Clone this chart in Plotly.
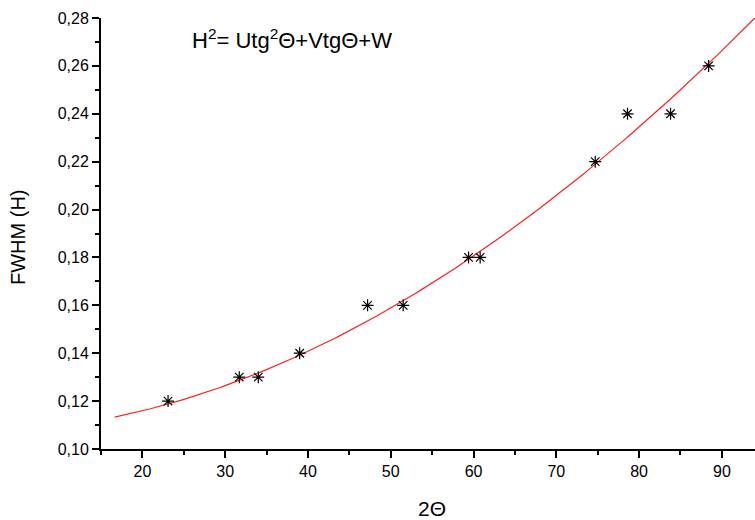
import numpy as np
import plotly.graph_objects as go

# Measured points (2Θ in degrees, FWHM H)
two_theta = [23.1, 31.7, 34.0, 39.0, 47.2, 51.5, 59.4, 60.8, 74.7, 78.6, 83.8, 88.4]
fwhm = [0.12, 0.13, 0.13, 0.14, 0.16, 0.16, 0.18, 0.18, 0.22, 0.24, 0.24, 0.26]

# Points
curve_x = [16.65, 23.1, 31.7, 34.0, 39.1, 47.2, 51.56, 59.4, 60.82, 68.88, 74.5, 78.33, 83.8, 88.4, 94.03]
curve_h = [0.1122, 0.1192, 0.1298, 0.1335, 0.1402, 0.1499, 0.1602, 0.1795, 0.1837, 0.2029, 0.2194, 0.2294,
           0.2469, 0.2603, 0.2799]

x_ticks = [20, 30, 40, 50, 60, 70, 80, 90]
y_ticks = [0.10, 0.12, 0.14, 0.16, 0.18, 0.20, 0.22, 0.24, 0.26, 0.28]

# smooth least-squares curve through the readings
coef = np.polyfit(curve_x, curve_h, 3)
xs = np.linspace(curve_x[0], 95, 300)
hs = np.polyval(coef, xs)

FONT = "Liberation Sans, Arial, sans-serif"
W_FIG, H_FIG = 755, 520
L, R, T, B = 101, 0, 18, 71
PW, PH = W_FIG - L - R, H_FIG - T - B

fig = go.Figure()
fig.add_trace(go.Scatter(x=xs, y=hs, mode="lines",
                         line=dict(color="#ff2020", width=1.2), hoverinfo="skip"))
fig.add_trace(go.Scatter(x=two_theta, y=fwhm, mode="markers",
                         marker=dict(symbol="asterisk-open", size=10, color="black",
                                     line=dict(color="black", width=1.2))))

fig.update_layout(
    width=W_FIG, height=H_FIG,
    margin=dict(l=L, r=R, t=T, b=B),
    plot_bgcolor="white", paper_bgcolor="white",
    showlegend=False,
    separators=",.",
    font=dict(family=FONT, size=16, color="black"),
    xaxis=dict(range=[15, 94.0], tickvals=x_ticks, showgrid=False, zeroline=False,
               showline=True, linecolor="black", linewidth=2,
               ticks="outside", ticklen=7, tickwidth=2, tickcolor="black",
               minor=dict(dtick=5, tick0=15, ticks="outside", ticklen=4, tickwidth=2, tickcolor="black"),
               tickfont=dict(size=16, family=FONT)),
    yaxis=dict(range=[0.10, 0.28], tickvals=y_ticks, tickformat=".2f", showgrid=False, zeroline=False,
               showline=True, linecolor="black", linewidth=2,
               ticks="outside", ticklen=7, tickwidth=2, tickcolor="black",
               minor=dict(dtick=0.01, tick0=0.1, ticks="outside", ticklen=4, tickwidth=2, tickcolor="black"),
               tickfont=dict(size=16, family=FONT)),
    annotations=[
        dict(text="2Θ", x=(432 - L) / PW, y=-(508 - (T + PH)) / PH, xref="paper", yref="paper",
             showarrow=False, font=dict(size=21, family=FONT), yanchor="middle", xanchor="center"),
        dict(text="FWHM (H)", x=(18 - L) / PW, y=1 - (237 - T) / PH, xref="paper", yref="paper",
             showarrow=False, textangle=-90, font=dict(size=20, family=FONT),
             xanchor="center", yanchor="middle"),
        dict(text="H<sup>2</sup>= Utg<sup>2</sup>Θ+VtgΘ+W", x=25.8, y=0.2712, xref="x", yref="y",
             showarrow=False, xanchor="left", yanchor="middle", font=dict(size=22, family=FONT)),
    ],
)

fig.write_html("out.html", config={"displayModeBar": False},
               post_script="document.body.style.margin='0';")
